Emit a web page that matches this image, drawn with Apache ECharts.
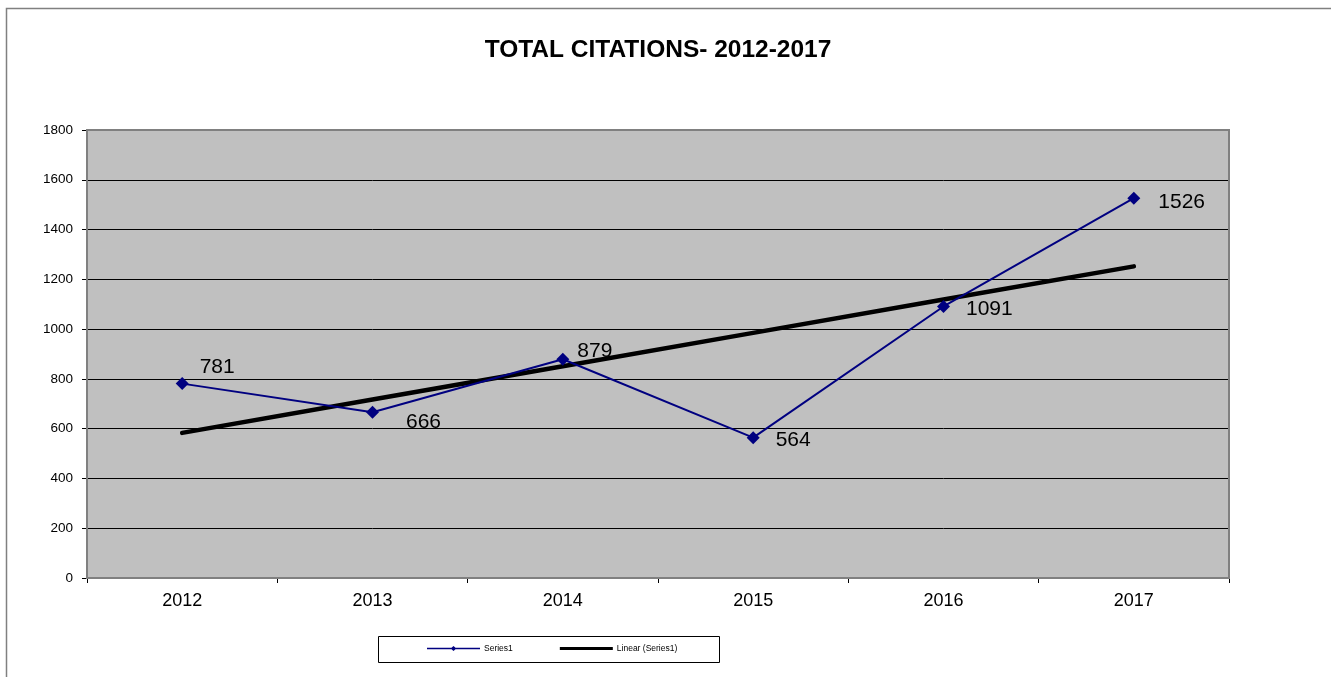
<!DOCTYPE html>
<html>
<head>
<meta charset="utf-8">
<script src="https://cdn.jsdelivr.net/npm/echarts@6/dist/echarts.min.js"></script>
<style>
  html, body { margin: 0; padding: 0; background: #fff; }
  #chart { width: 1331px; height: 677px; }
</style>
</head>
<body>
<div id="chart"></div>
<script>
const years = ["2012", "2013", "2014", "2015", "2016", "2017"];
const citations = [781, 666, 879, 564, 1091, 1526];
// linear trendline values
const trend = [583, 717, 851, 985, 1119, 1252];
const yTicks = { min: 0, max: 1800, interval: 200 };

// label nudges so the numbers sit where the original puts them
const labelOffsets = [[-7, -16], [9, 10], [-10, -8], [-2, 3], [-2, 3], [0, 4]];

const chart = echarts.init(document.getElementById("chart"));

chart.setOption({
  animation: false,
  textStyle: { fontFamily: "Liberation Sans, Arial, sans-serif" },
  title: {
    text: "TOTAL CITATIONS- 2012-2017",
    left: 653,
    top: 33,
    textAlign: "center",
    textStyle: { fontSize: 24.5, fontWeight: "bold", color: "#000" },
  },
  graphic: [
    {
      type: "rect",
      shape: { x: 6.5, y: 8.5, width: 1330, height: 680 },
      style: { fill: "none", stroke: "#808080", lineWidth: 1.5 },
      silent: true,
    },
    {
      type: "rect",
      shape: { x: 378.5, y: 636.5, width: 341, height: 26 },
      style: { fill: "#fff", stroke: "#000", lineWidth: 1 },
      z: -1,
      silent: true,
    },
    {
      type: "rect",
      shape: { x: 87, y: 130, width: 1142, height: 448 },
      style: { fill: "none", stroke: "#808080", lineWidth: 2 },
      z: 1,
      silent: true,
    },
  ],
  legend: {
    left: 427,
    top: 644,
    padding: 0,
    itemWidth: 53,
    itemHeight: 10,
    itemGap: 47,
    textStyle: { fontSize: 8.5, color: "#000", padding: [0, 0, 0, -1] },
    data: [
      {
        name: "Series1",
        icon: "path://M0,4.2 L24.5,4.2 L26.5,2.5 L28.5,4.2 L53,4.2 L53,5.8 L28.5,5.8 L26.5,7.5 L24.5,5.8 L0,5.8 Z",
      },
      { name: "Linear (Series1)", icon: "path://M0,3.5 L53,3.5 L53,6.5 L0,6.5 Z" },
    ],
  },
  grid: {
    left: 87,
    top: 130,
    right: 102,
    bottom: 99,
    show: true,
    backgroundColor: "#c0c0c0",
    borderWidth: 0,
  },
  xAxis: {
    type: "category",
    data: years,
    boundaryGap: true,
    axisLine: { lineStyle: { color: "#000", width: 1 } },
    axisTick: { show: true, length: 5, lineStyle: { color: "#000" } },
    axisLabel: { fontSize: 18, color: "#000", margin: 14 },
  },
  yAxis: {
    type: "value",
    min: yTicks.min,
    max: yTicks.max,
    interval: yTicks.interval,
    axisLine: { show: true, lineStyle: { color: "#000", width: 1 } },
    axisTick: { show: true, length: 5, lineStyle: { color: "#000" } },
    axisLabel: { fontSize: 13.5, color: "#000", margin: 14, formatter: (v) => String(v) },
    splitLine: { lineStyle: { color: "#000", width: 1 } },
  },
  series: [
    {
      name: "Series1",
      type: "line",
      data: citations.map((v, i) => ({
        value: v,
        label: { offset: labelOffsets[i] },
      })),
      lineStyle: { color: "#000080", width: 2 },
      itemStyle: { color: "#000080" },
      symbol: "diamond",
      symbolSize: 13,
      z: 3,
      label: {
        show: true,
        position: "right",
        distance: 18,
        fontSize: 21,
        color: "#000",
      },
    },
    {
      name: "Linear (Series1)",
      type: "line",
      data: trend,
      symbol: "none",
      lineStyle: { color: "#000", width: 4.5, cap: "round" },
      itemStyle: { color: "#000" },
      z: 2,
    },
  ],
});
</script>
</body>
</html>
